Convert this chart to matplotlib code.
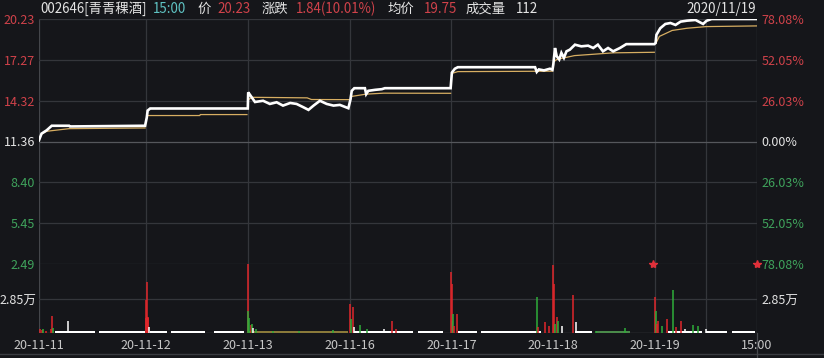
"""Intraday 7-day price/volume chart for 002646 (青青稞酒), dark terminal style."""
import matplotlib.pyplot as plt
from matplotlib.lines import Line2D

plt.rcParams["font.family"] = ["Noto Sans CJK SC", "DejaVu Sans"]
plt.rcParams["axes.unicode_minus"] = False

BG = "#15161a"
GRID = "#34363b"
RED = "#d0424a"
GREEN = "#3fa35c"
WHITE = "#e4e4e4"

# minute index, 240 per trading day (day 1 includes a short pre-open stretch)
DAY_TICKS = [-12, 240, 480, 720, 960, 1200, 1440, 1680]
DAY_LABELS = ["20-11-11", "20-11-12", "20-11-13", "20-11-16", "20-11-17", "20-11-18", "20-11-19", "15:00"]

PRICE_TICKS = [20.23, 17.27, 14.32, 11.36, 8.40, 5.45, 2.49]
PCT_LABELS = ["78.08%", "52.05%", "26.03%", "0.00%", "26.03%", "52.05%", "78.08%"]
TICK_COLORS = [RED, RED, RED, WHITE, GREEN, GREEN, GREEN]

PRICE_MIN = [-12, -6, 6, 18, 59, 61, 238,
             242, 244, 250, 480,
             481, 484, 492, 497, 516, 532, 548, 563, 580, 595, 611, 623, 635, 650, 666, 682, 697, 717,
             722, 725, 731, 756, 759, 764, 780, 796, 803, 958,
             961, 968, 975, 1157, 1161, 1166, 1178, 1192, 1198,
             1200, 1204, 1208, 1214, 1219, 1225, 1231, 1239, 1251, 1266, 1282, 1294, 1305, 1317, 1329,
             1341, 1357, 1372, 1438,
             1441, 1443, 1452, 1464, 1476, 1488, 1500, 1515, 1535, 1553, 1561, 1573, 1680]
PRICE = [11.45, 11.93, 12.17, 12.50, 12.50, 12.45, 12.50,
         13.10, 13.60, 13.75, 13.75,
         14.92, 14.79, 14.44, 14.22, 14.31, 14.08, 14.20, 13.96, 14.15, 14.08, 13.84, 13.65, 13.96, 14.31,
         14.08, 13.96, 14.01, 13.77,
         14.40, 15.03, 15.22, 15.22, 14.79, 15.03, 15.10, 15.15, 15.22, 15.22,
         16.35, 16.63, 16.74, 16.74, 16.40, 16.58, 16.51, 16.63, 16.55,
         16.94, 18.13, 17.53, 17.30, 17.78, 17.42, 17.89, 18.01, 18.37, 18.25, 18.30, 18.13, 18.37, 17.89,
         18.13, 17.89, 18.13, 18.41, 18.41,
         18.49, 19.08, 19.56, 19.87, 19.94, 19.80, 20.04, 20.11, 20.16, 19.87, 20.10, 20.23, 20.23]

AVG_SEGMENTS = [
    ([-6, 6, 59, 238], [11.90, 12.10, 12.29, 12.34]),
    ([242, 367, 368, 478], [13.24, 13.24, 13.31, 13.31]),
    ([482, 490, 620, 630, 718], [14.40, 14.56, 14.52, 14.40, 14.39]),
    ([724, 759, 800, 958], [14.62, 14.79, 14.86, 14.85]),
    ([962, 975, 1198], [16.30, 16.42, 16.45]),
    ([1204, 1208, 1250, 1282, 1341, 1438], [17.20, 17.30, 17.58, 17.65, 17.78, 17.82]),
    ([1442, 1450, 1480, 1515, 1560, 1680], [18.49, 18.97, 19.40, 19.56, 19.68, 19.73]),
]

VOL_MIN = [-10, -6, -2, 4, 17, 19, 22, 57, 70,
           240, 241, 242, 243, 244, 245, 247, 260,
           480, 481, 484, 487, 490, 492, 500, 540, 600, 680,
           720, 724, 728, 731, 745, 760, 800, 819, 830,
           959, 961, 962, 964, 966, 974, 1000, 1100,
           1161, 1165, 1181, 1190, 1200, 1202, 1205, 1208, 1211, 1221, 1247, 1253, 1300, 1369,
           1440, 1442, 1445, 1447, 1455, 1468, 1482, 1488, 1500, 1510, 1530, 1542, 1560]
VOLUME = [0.30, 0.25, 0.35, 0.20, 0.35, 1.47, 0.40, 0.98, 0.20,
          1.30, 2.80, 4.35, 1.40, 1.32, 1.30, 0.50, 0.20,
          5.85, 1.90, 1.30, 0.70, 0.78, 0.40, 0.30, 0.20, 0.20, 0.25,
          2.48, 1.20, 2.19, 0.50, 0.69, 0.30, 0.30, 0.98, 0.30,
          5.21, 1.00, 4.20, 1.60, 0.60, 1.60, 0.20, 0.20,
          3.10, 0.50, 0.90, 0.60, 5.79, 4.20, 0.80, 1.32, 1.00, 0.60, 3.20, 0.90, 0.20, 0.45,
          3.05, 1.90, 0.80, 1.05, 0.60, 1.18, 3.69, 0.50, 1.04, 0.35, 0.70, 0.60, 0.30]
VOL_COLORS = ["r", "r", "g", "r", "r", "r", "g", "w", "w",
              "r", "r", "r", "r", "r", "r", "w", "w",
              "r", "g", "g", "r", "g", "w", "g", "g", "g", "g",
              "r", "g", "r", "w", "g", "g", "w", "r", "r",
              "r", "g", "r", "g", "r", "r", "w", "w",
              "g", "r", "r", "r", "r", "r", "g", "r", "g", "w", "r", "w", "g", "g",
              "r", "g", "r", "r", "g", "r", "g", "r", "r", "w", "g", "g", "w"]

# stretches where the small per-minute volume forms a thin band at the base
BASE_START = [26, 130, 250, 300, 400, 482, 730, 880, 975, 1030, 1250, 1300, 1470, 1560, 1620]
BASE_END = [120, 238, 290, 380, 470, 715, 870, 940, 1020, 1170, 1290, 1380, 1550, 1610, 1675]
BASE_COLORS = ["w", "w", "w", "w", "w", "#8a7a3a", "w", "w", "w", "w", "w", "#4a8a4a", "w", "w", "w"]

STAR_MIN = [1436, 1680]


def main() -> None:
    W, H = 824, 358
    fig = plt.figure(figsize=(W / 100, H / 100), dpi=100, facecolor=BG)
    left, right = 39 / W, 757 / W
    ax = fig.add_axes([left, 1 - 264 / H, right - left, 245 / H], facecolor=BG)
    axv = fig.add_axes([left, 1 - 333 / H, right - left, 69 / H], facecolor=BG)

    xlim = (DAY_TICKS[0], DAY_TICKS[-1])
    for a in (ax, axv):
        a.set_xlim(*xlim)
        for side in a.spines.values():
            side.set_visible(False)
        a.tick_params(length=0)
        for x in DAY_TICKS + [1560]:
            a.axvline(x, color=GRID if x not in xlim else "#44464b", lw=0.9, zorder=0)

    ax.set_ylim(PRICE_TICKS[-1], PRICE_TICKS[0])
    for y in PRICE_TICKS:
        ax.axhline(y, color="#55575c" if y == 11.36 else GRID, lw=0.9, zorder=0)
    ax.set_xticks([])
    ax.set_yticks(PRICE_TICKS, [f"{v:.2f}" for v in PRICE_TICKS])
    for lab, c in zip(ax.get_yticklabels(), TICK_COLORS):
        lab.set_color(c)
        lab.set_fontsize(9)
    ax.tick_params(axis="y", pad=3)
    twin = ax.twinx()
    twin.set_ylim(ax.get_ylim())
    twin.set_yticks(PRICE_TICKS, PCT_LABELS)
    for lab, c in zip(twin.get_yticklabels(), TICK_COLORS):
        lab.set_color(c)
        lab.set_fontsize(9)
    twin.tick_params(length=0, pad=3)
    for side in twin.spines.values():
        side.set_visible(False)

    for xs, ys in AVG_SEGMENTS:
        ax.plot(xs, ys, color="#d7ae62", lw=0.9, zorder=2)
    ax.plot(PRICE_MIN, PRICE, color="white", lw=1.9, zorder=3, solid_joinstyle="miter")

    vmax = 5.87
    axv.set_ylim(0, vmax)
    axv.axhline(2.85, color=GRID, lw=0.9, zorder=0)
    axv.axhline(0, color="#44464b", lw=1.0, zorder=0)
    cmap = {"r": "#e0262b", "g": "#2fae3a", "w": "white"}
    for s, e, c in zip(BASE_START, BASE_END, BASE_COLORS):
        axv.fill_between([s, e], 0, 0.14, color=cmap.get(c, c), lw=0, zorder=2)
    axv.vlines(VOL_MIN, 0, VOLUME, colors=[cmap[c] for c in VOL_COLORS], lw=1.1, zorder=3)
    axv.plot(STAR_MIN, [vmax] * len(STAR_MIN), ls="none", marker="*", ms=6,
             color="#e0303a", clip_on=False, zorder=5)
    axv.set_yticks([2.85], ["2.85万"])
    axv.tick_params(axis="y", colors=WHITE, labelsize=9, pad=2)
    axv.set_xticks(DAY_TICKS, DAY_LABELS)
    axv.tick_params(axis="x", colors="#c8c8c8", labelsize=9, pad=4)
    tv = axv.twinx()
    tv.set_ylim(0, vmax)
    tv.set_yticks([2.85], ["2.85万"])
    tv.tick_params(length=0, colors=WHITE, labelsize=9, pad=3)
    for side in tv.spines.values():
        side.set_visible(False)

    fig.add_artist(Line2D([0, 1], [1 - 354 / H] * 2, color="#3a3c41", lw=1))
    fig.add_artist(Line2D([right, right], [0, 1 - 333 / H], color="#44464b", lw=0.9))

    y_head = 1 - 9 / H
    header = [
        (40, "002646[青青稞酒]", WHITE), (153, "15:00", "#5fc3c3"), (197, "价", WHITE),
        (217, "20.23", RED), (262, "涨跌", WHITE), (296, "1.84(10.01%)", RED),
        (387, "均价", WHITE), (424, "19.75", RED), (466, "成交量", WHITE), (516, "112", WHITE),
    ]
    for x, text, color in header:
        fig.text(x / W, y_head, text, color=color, fontsize=9.6, va="center", ha="left")
    fig.text(756 / W, y_head, "2020/11/19", color=WHITE, fontsize=9.6, va="center", ha="right")

    fig.savefig("out.png", dpi=100, facecolor=BG)
    plt.close(fig)


if __name__ == "__main__":
    main()
